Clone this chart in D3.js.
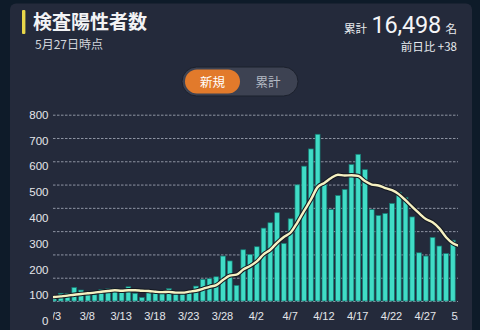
<!DOCTYPE html>
<html lang="ja">
<head>
<meta charset="utf-8">
<script src="https://cdn.jsdelivr.net/npm/d3@7"></script>
<style>
  html, body { margin: 0; padding: 0; background: #0e1b29; }
  svg { display: block; }
</style>
</head>
<body>
<svg id="chart" width="480" height="330"></svg>
<script>
// Daily positive test results, 3/3 – 5/1
const firstDay = "3/3";
const cases = [
  24, 33, 33, 58, 47, 35, 27, 50, 52, 53,
  47, 61, 33, 15, 37, 36, 36, 53, 40, 36,
  42, 64, 93, 96, 104, 193, 172, 67, 220, 200,
  233, 313, 336, 379, 247, 353, 499, 579, 653, 716,
  501, 393, 453, 479, 586, 630, 564, 393, 367, 376,
  419, 467, 444, 361, 207, 193, 273, 236, 204, 261
];
// 7-day average, 3/2 – 5/2
const avgFirstDay = "3/2";
const average7 = [
  15, 17, 20, 23, 27, 30, 33, 36, 40, 43,
  46, 44, 46, 46, 44, 43, 40, 38, 39, 36,
  36, 40, 44, 52, 61, 68, 90, 109, 113, 135,
  150, 170, 200, 220, 250, 275, 294, 337, 387, 435,
  489, 507, 528, 542, 539, 540, 537, 515, 500, 496,
  485, 476, 459, 433, 404, 377, 352, 338, 312, 274,
  248, 236
];
const yTicks = [0, 100, 200, 300, 400, 500, 600, 700, 800];
const xTickLabels = ["3/3", "3/8", "3/13", "3/18", "3/23", "3/28", "4/2", "4/7", "4/12", "4/17", "4/22", "4/27", "5/2"];

const title = "検査陽性者数";
const asOf = "5月27日時点";
const totalLabel = "累計";
const totalValue = 16498;
const totalUnit = "名";
const diffText = "前日比 +38";
const toggleLabels = ["新規", "累計"];

const parseMD = s => { const [m, d] = s.split("/").map(Number); return new Date(2020, m - 1, d); };
const start = parseMD(firstDay);
const avgStart = parseMD(avgFirstDay);

const svg = d3.select("#chart");
const W = 480, H = 330;

// page + card
svg.append("rect").attr("width", W).attr("height", H).attr("fill", "#0e1b29");
svg.append("rect").attr("x", 10).attr("y", 3.5).attr("width", 462).attr("height", 360)
  .attr("rx", 6).attr("fill", "#242a3b");

// header
svg.append("rect").attr("x", 22).attr("y", 10).attr("width", 3.4).attr("height", 24)
  .attr("rx", 1).attr("fill", "#e8d64a");
svg.append("text").attr("x", 33).attr("y", 28.5).text(title)
  .attr("font-family", "'Noto Sans CJK JP', sans-serif").attr("font-size", 19).attr("font-weight", 700)
  .attr("fill", "#f2f3f5");
svg.append("text").attr("x", 35).attr("y", 49).text(asOf)
  .attr("font-family", "'Noto Sans CJK JP', sans-serif").attr("font-size", 12)
  .attr("fill", "#d3d6dc");

svg.append("text").attr("x", 457).attr("y", 33).attr("text-anchor", "end").text(totalUnit)
  .attr("font-family", "'Noto Sans CJK JP', sans-serif").attr("font-size", 11.5).attr("fill", "#e8eaee");
svg.append("text").attr("x", 441).attr("y", 33).attr("text-anchor", "end")
  .text(d3.format(",")(totalValue))
  .attr("font-family", "Roboto, sans-serif").attr("font-size", 23.5).attr("letter-spacing", -0.2)
  .attr("fill", "#f4f5f7");
svg.append("text").attr("x", 367).attr("y", 33).attr("text-anchor", "end").text(totalLabel)
  .attr("font-family", "'Noto Sans CJK JP', sans-serif").attr("font-size", 11.5).attr("fill", "#e8eaee");
svg.append("text").attr("x", 457).attr("y", 50.5).attr("text-anchor", "end").text(diffText)
  .attr("font-family", "'Noto Sans CJK JP', sans-serif").attr("font-size", 11.5).attr("fill", "#e8eaee");

// new / cumulative toggle
const tg = svg.append("g");
tg.append("rect").attr("x", 182).attr("y", 67).attr("width", 116).attr("height", 29).attr("rx", 14.5)
  .attr("fill", "#3d4252").attr("stroke", "#1b202c").attr("stroke-width", 1);
tg.append("rect").attr("x", 185).attr("y", 69.5).attr("width", 55).attr("height", 24).attr("rx", 12)
  .attr("fill", "#e27a2b");
tg.append("text").attr("x", 212.5).attr("y", 81.5).attr("text-anchor", "middle").attr("dominant-baseline", "central")
  .text(toggleLabels[0]).attr("font-family", "'Noto Sans CJK JP', sans-serif").attr("font-size", 12.5)
  .attr("fill", "#ffffff");
tg.append("text").attr("x", 268).attr("y", 81.5).attr("text-anchor", "middle").attr("dominant-baseline", "central")
  .text(toggleLabels[1]).attr("font-family", "'Noto Sans CJK JP', sans-serif").attr("font-size", 12.5)
  .attr("fill", "#b5bac4");

// scales
const dayStep = 6.76;
const x0 = 54;
const x = d3.scaleTime()
  .domain([start, d3.timeDay.offset(start, cases.length - 1)])
  .range([x0, x0 + dayStep * (cases.length - 1)]);
const y = d3.scaleLinear().domain([0, 800]).range([301, 114.7]);
// the value column on the left is spaced evenly on its own, a little looser than the grid
const yTickScale = d3.scaleLinear().domain([0, 800]).range([321, 114.7]);

const plotLeft = 53, plotRight = 458;
svg.append("clipPath").attr("id", "plotClip")
  .append("rect").attr("x", plotLeft).attr("y", 100).attr("width", plotRight - plotLeft).attr("height", 230);

// grid
svg.append("g").selectAll("line").data(yTicks).join("line")
  .attr("x1", plotLeft).attr("x2", plotRight)
  .attr("y1", d => y(d) + 0.5).attr("y2", d => y(d) + 0.5)
  .attr("stroke", "#8e94a3").attr("stroke-width", 1).attr("stroke-dasharray", "2.5,1.5");

// y tick labels
const yAxis = svg.append("g").attr("transform", "translate(48.5,0)")
  .call(d3.axisLeft(yTickScale).tickValues(yTicks).tickSize(0).tickPadding(0));
yAxis.select(".domain").remove();
yAxis.selectAll("text").attr("font-family", "'Liberation Sans', Arial, sans-serif")
  .attr("font-size", 11.5).attr("fill", "#e4e6ea");

const plot = svg.append("g").attr("clip-path", "url(#plotClip)");

// bars
const barW = 4.8;
plot.append("g").selectAll("rect").data(cases).join("rect")
  .attr("x", (d, i) => x(d3.timeDay.offset(start, i)) - barW / 2)
  .attr("y", d => y(d))
  .attr("width", barW)
  .attr("height", d => y(0) - y(d))
  .attr("fill", "#40dcc6")
  .attr("stroke", "#147a72")
  .attr("stroke-width", 0.7);

// 7-day average line
const line = d3.line()
  .x((d, i) => x(d3.timeDay.offset(avgStart, i)))
  .y(d => y(d))
  .curve(d3.curveMonotoneX);
plot.append("path").datum(average7).attr("d", line)
  .attr("fill", "none").attr("stroke", "#141820").attr("stroke-width", 4.4).attr("stroke-linejoin", "round");
plot.append("path").datum(average7).attr("d", line)
  .attr("fill", "none").attr("stroke", "#f6f1c2").attr("stroke-width", 2.4).attr("stroke-linejoin", "round");

// x tick labels
const xAxis = plot.append("g").attr("transform", "translate(-1,301)")
  .call(d3.axisBottom(x).tickValues(xTickLabels.map(parseMD))
    .tickFormat(d => `${d.getMonth() + 1}/${d.getDate()}`).tickSize(0).tickPadding(11));
xAxis.select(".domain").remove();
xAxis.selectAll("text").attr("font-family", "'Liberation Sans', Arial, sans-serif")
  .attr("font-size", 11).attr("fill", "#e4e6ea");
</script>
</body>
</html>
